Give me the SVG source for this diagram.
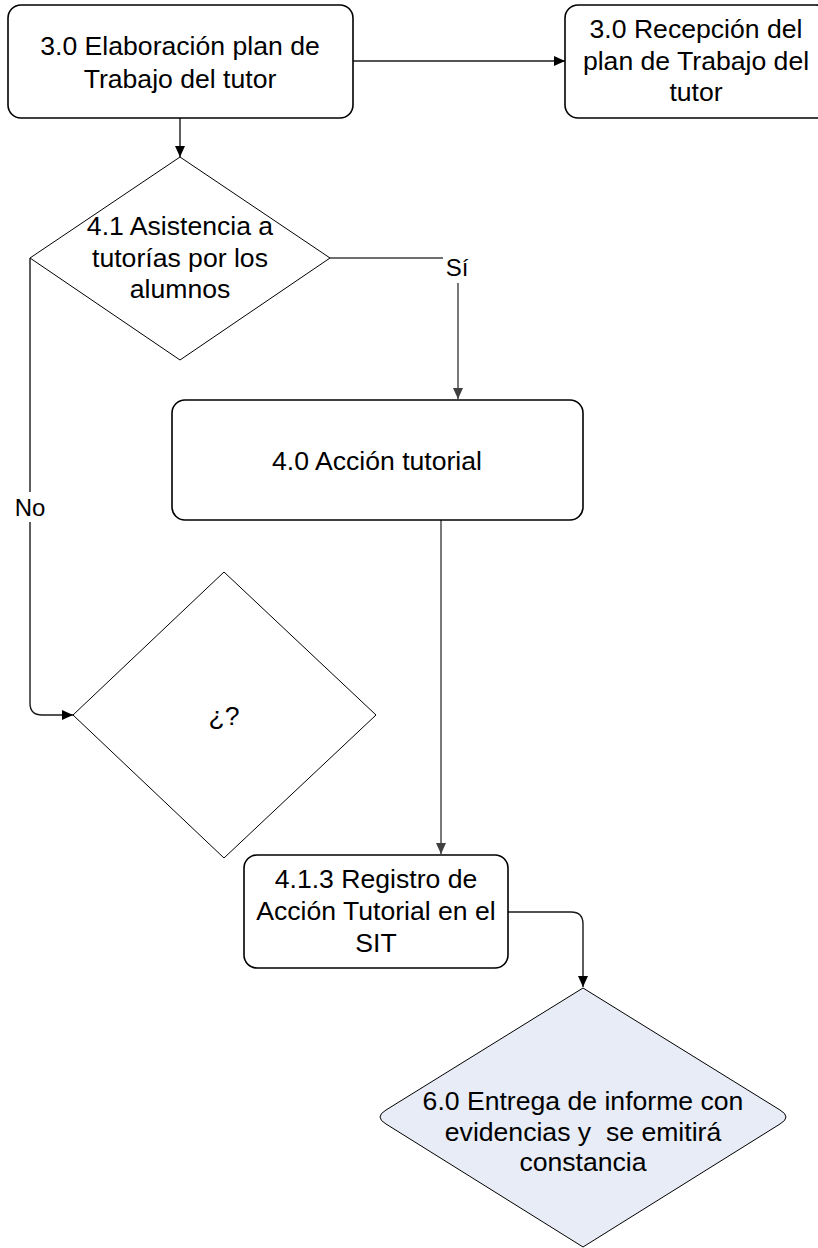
<svg xmlns="http://www.w3.org/2000/svg" width="818" height="1248" viewBox="0 0 818 1248">
  <defs>
    <style>
      .box { fill: #ffffff; stroke: #000000; stroke-width: 1.6; }
      .dia { fill: #ffffff; stroke: #000000; stroke-width: 1; }
      .dia-blue { fill: #e7ecf6; stroke: #000000; stroke-width: 1; }
      .t { font-family: "Liberation Sans", Arial, sans-serif; font-size: 26.6px; fill: #000000; text-anchor: middle; }
      .lbl { font-family: "Liberation Sans", Arial, sans-serif; font-size: 24px; fill: #000000; text-anchor: middle; }
      .conn { fill: none; stroke: #1a1a1a; stroke-width: 1.4; }
      .conn-g { fill: none; stroke: #404040; stroke-width: 1.4; }
      .lblbg { fill: #ffffff; stroke: none; }
    </style>
    <marker id="arr" markerUnits="userSpaceOnUse" markerWidth="12" markerHeight="10" refX="11" refY="5" orient="auto">
      <path d="M0,0 L11,5 L0,10 Z" fill="#000000"/>
    </marker>
    <marker id="arrg" markerUnits="userSpaceOnUse" markerWidth="12" markerHeight="10" refX="11" refY="5" orient="auto">
      <path d="M0,0 L11,5 L0,10 Z" fill="#404040"/>
    </marker>
  </defs>
  <rect width="818" height="1248" fill="#ffffff"/>

  <g id="connectors">
    <path class="conn" d="M353,61 H565" marker-end="url(#arr)"/>
    <path class="conn" d="M180,118 V157" marker-end="url(#arr)"/>
    <path class="conn-g" d="M330,258 H458 V399" marker-end="url(#arrg)"/>
    <path class="conn" d="M30,258 V703 Q30,715 42,715 H73" marker-end="url(#arr)"/>
    <path class="conn-g" d="M441,520 V854" marker-end="url(#arrg)"/>
    <path class="conn" d="M508,912 H571 Q583,912 583,924 V987" marker-end="url(#arr)"/>
    <g id="label-si">
      <rect class="lblbg" x="443" y="250" width="28" height="33"/>
      <text class="lbl" x="457" y="276">Sí</text>
    </g>
    <g id="label-no">
      <rect class="lblbg" x="12" y="492" width="36" height="30"/>
      <text class="lbl" x="30" y="516">No</text>
    </g>
  </g>

  <g id="node-elaboracion">
    <rect class="box" x="8" y="5" width="345" height="113" rx="13" ry="13"/>
    <text class="t" x="180" y="55">3.0 Elaboración plan de</text>
    <text class="t" x="180" y="88">Trabajo del tutor</text>
  </g>

  <g id="node-recepcion">
    <rect class="box" x="565" y="5" width="264" height="113" rx="13" ry="13"/>
    <text class="t" x="696" y="38">3.0 Recepción del</text>
    <text class="t" x="696" y="70">plan de Trabajo del</text>
    <text class="t" x="696" y="101">tutor</text>
  </g>

  <g id="node-asistencia">
    <polygon class="dia" points="180,157 330,258 180,360 30,258"/>
    <text class="t" x="180" y="235">4.1 Asistencia a</text>
    <text class="t" x="180" y="267">tutorías por los</text>
    <text class="t" x="180" y="298">alumnos</text>
  </g>

  <g id="node-accion">
    <rect class="box" x="172" y="400" width="411" height="120" rx="13" ry="13"/>
    <text class="t" x="377" y="470">4.0 Acción tutorial</text>
  </g>

  <g id="node-pregunta">
    <polygon class="dia" points="224,572 376,715 224,858 73,715"/>
    <text class="t" x="224" y="725">¿?</text>
  </g>

  <g id="node-registro">
    <rect class="box" x="244" y="855" width="264" height="113" rx="13" ry="13"/>
    <text class="t" x="376" y="888">4.1.3 Registro de</text>
    <text class="t" x="376" y="920">Acción Tutorial en el</text>
    <text class="t" x="376" y="952">SIT</text>
  </g>

  <g id="node-entrega">
    <path class="dia-blue" d="M583,988 L780,1110 Q792,1117 780,1124 L583,1247 L386,1124 Q374,1117 386,1110 Z"/>
    <text class="t" x="583" y="1110">6.0 Entrega de informe con</text>
    <text class="t" x="583" y="1141" xml:space="preserve">evidencias y  se emitirá</text>
    <text class="t" x="583" y="1171">constancia</text>
  </g>
</svg>
